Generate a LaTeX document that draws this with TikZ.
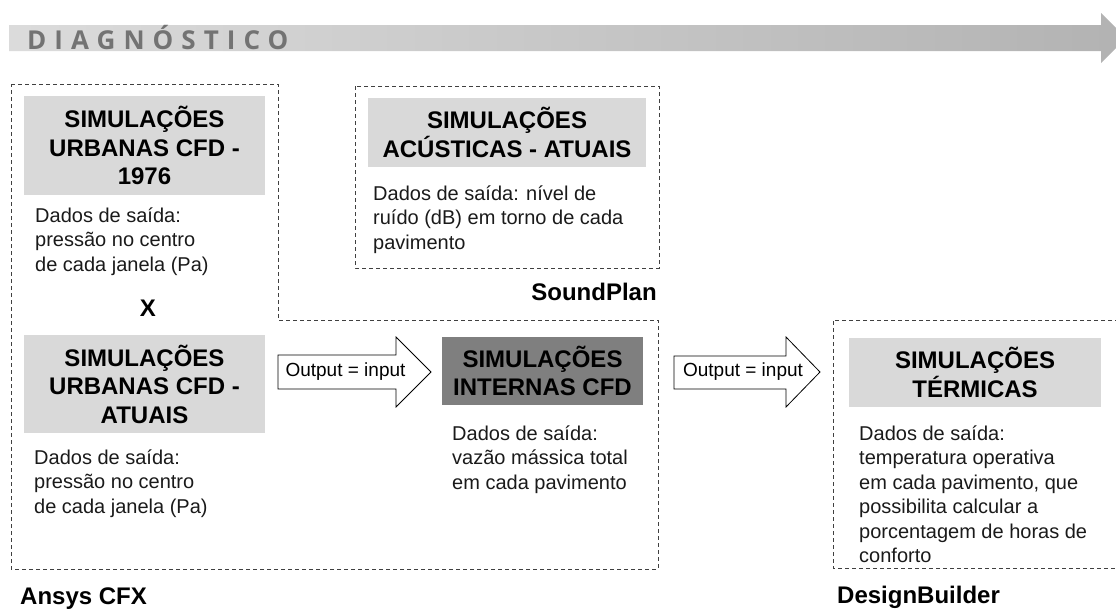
\documentclass[tikz,border=0pt]{standalone}
\usepackage{fontspec}
\setmainfont{Liberation Sans}
\newfontfamily\diagfont[LetterSpace=31]{Open Sans}
\newcommand\bodylines[1]{\begin{tabular}[t]{@{}l@{}}#1\end{tabular}}
\definecolor{boxgray}{HTML}{D9D9D9}
\definecolor{darkgray}{HTML}{7F7F7F}
\definecolor{dashcol}{HTML}{404040}
\definecolor{bodycol}{HTML}{1A1A1A}
\definecolor{diagcol}{HTML}{737373}
\begin{document}
\begin{tikzpicture}[x=1pt,y=-1pt,
  dashbox/.style={draw=dashcol, line width=0.8pt, dash pattern=on 4pt off 3pt},
  titlebox/.style={fill=boxgray, inner sep=0pt, align=center, text=black,
    font=\fontsize{24}{28.5}\selectfont\bfseries},
  bodytxt/.style={anchor=base west, inner sep=0pt, text=bodycol,
    font=\fontsize{20}{24.5}\selectfont},
  tool/.style={inner sep=0pt, text=black, font=\fontsize{24}{28}\selectfont\bfseries},
  blockarrow/.style={draw=black, fill=white, line width=0.8pt, line join=miter},
  arrowtxt/.style={inner sep=0pt, text=black, font=\fontsize{19}{22}\selectfont}
]
\useasboundingbox (0,0) rectangle (1116,608);

% timeline arrow
\shade[left color=black!14, right color=black!30]
  (9,25) -- (1101,25) -- (1101,13) -- (1126,38) -- (1101,63) -- (1101,51) -- (9,51) -- cycle;
\node[anchor=base west, inner sep=0pt, text=diagcol,
  font=\diagfont\bfseries\fontsize{26}{30}\selectfont] (diag) at (27,49) {DIAGNÓSTICO};

% dashed frames
\draw[dashbox] (11,84) -- (278,84) -- (278,320) -- (658,320) -- (658,569) -- (11,569) -- cycle;
\draw[dashbox] (355,86) rectangle (659,268);
\draw[dashbox] (1140,320) -- (833,320) -- (833,568) -- (1140,568);

% left column
\node[titlebox, minimum width=241, minimum height=99] (urb1) at (144.5,145.5)
  {SIMULAÇÕES\\URBANAS CFD -\\1976};
\node[bodytxt] (urb1d) at (35,222)
  {\bodylines{Dados de saída:\\pressão no centro\\de cada janela (Pa)}};
\node[tool] (times) at (148,308) {X};
\node[titlebox, minimum width=241, minimum height=98] (urb2) at (144.5,384)
  {SIMULAÇÕES\\URBANAS CFD -\\ATUAIS};
\node[bodytxt] (urb2d) at (34,464)
  {\bodylines{Dados de saída:\\pressão no centro\\de cada janela (Pa)}};
\node[tool, anchor=base west] (ansys) at (20,604) {Ansys CFX};

% acoustic
\node[titlebox, minimum width=278, minimum height=69] (acu) at (507,132.5)
  {SIMULAÇÕES\\ACÚSTICAS - ATUAIS};
\node[bodytxt] (acud) at (373,200)
  {\bodylines{Dados de saída: nível de\\ruído (dB) em torno de cada\\pavimento}};
\node[tool, anchor=base] (sound) at (594,300) {SoundPlan};

% internal CFD
\node[titlebox, fill=darkgray, minimum width=201, minimum height=68] (int) at (542.5,371)
  {SIMULAÇÕES\\INTERNAS CFD};
\node[bodytxt] (intd) at (452,440)
  {\bodylines{Dados de saída:\\vazão mássica total\\em cada pavimento}};

% thermal
\node[titlebox, minimum width=252, minimum height=69] (ter) at (975,372.5)
  {SIMULAÇÕES\\TÉRMICAS};
\node[bodytxt] (terd) at (859,440)
  {\bodylines{Dados de saída:\\temperatura operativa\\em cada pavimento, que\\possibilita calcular a\\porcentagem de horas de\\conforto}};
\node[tool, anchor=base west] (design) at (837,603) {DesignBuilder};

% block arrows
\draw[blockarrow] (278,355) -- (396,355) -- (396,337) -- (431,372) -- (396,407) -- (396,389) -- (278,389) -- cycle;
\node[arrowtxt] (oi1) at (345.5,372) {Output = input};
\draw[blockarrow] (674,356) -- (786,356) -- (786,337) -- (820,372) -- (786,407) -- (786,389) -- (674,389) -- cycle;
\node[arrowtxt] (oi2) at (743,372) {Output = input};
\end{tikzpicture}
\end{document}
